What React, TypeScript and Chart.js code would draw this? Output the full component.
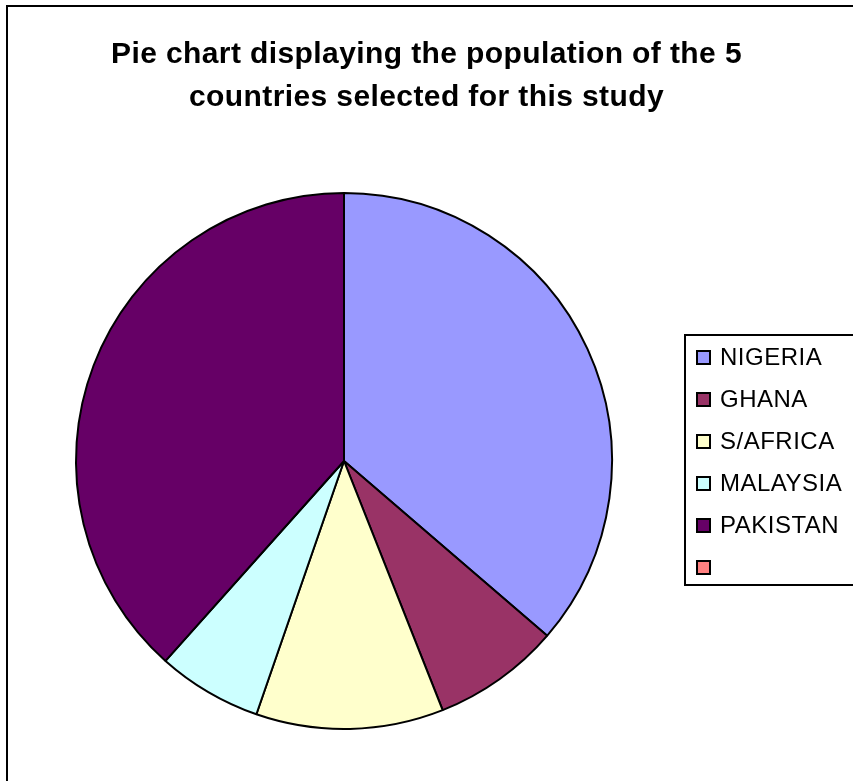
import React, { useEffect, useRef } from "react";
import { Chart, registerables } from "chart.js";

Chart.register(...registerables);

const titleLines = ["Pie chart displaying the population of the 5", "countries selected for this study"];
const categories = ["NIGERIA", "GHANA", "S/AFRICA", "MALAYSIA", "PAKISTAN", ""];
const shares = [36.3, 7.7, 11.3, 6.3, 38.4, 0];
const colors = ["#9999FF", "#993366", "#FFFFCC", "#CCFFFF", "#660066", "#FF8080"];

export default function App() {
  const ref = useRef<HTMLCanvasElement | null>(null);

  useEffect(() => {
    if (!ref.current) return;
    const chart = new Chart(ref.current, {
      type: "pie",
      data: {
        labels: categories,
        datasets: [
          {
            data: shares,
            backgroundColor: colors,
            borderColor: "#000000",
            borderWidth: 2,
          },
        ],
      },
      options: {
        responsive: false,
        animation: false,
        layout: { padding: { left: 75, top: 192, right: 240, bottom: 51 } },
        plugins: {
          legend: { display: false },
          title: { display: false },
          tooltip: { enabled: false },
        },
      },
    });
    return () => chart.destroy();
  }, []);

  const font = '"Liberation Sans", Arial, sans-serif';

  return (
    <div
      style={{
        position: "absolute",
        left: 0,
        top: 0,
        width: 853,
        height: 781,
        overflow: "hidden",
        background: "#fff",
        fontFamily: font,
      }}
    >
      <div
        style={{
          position: "absolute",
          left: 6,
          top: 5,
          width: 1000,
          height: 1000,
          border: "2px solid #000",
          boxSizing: "border-box",
        }}
      />
      <canvas ref={ref} width={853} height={781} style={{ position: "absolute", left: 0, top: 0 }} />
      <div
        style={{
          position: "absolute",
          left: 0,
          top: 31,
          width: 853,
          textAlign: "center",
          fontWeight: "bold",
          fontSize: 30,
          lineHeight: "43px",
          letterSpacing: "0.4px",
          color: "#000",
        }}
      >
        {titleLines.map((t, i) => (
          <div key={i}>{t}</div>
        ))}
      </div>
      <div
        style={{
          position: "absolute",
          left: 684,
          top: 334,
          width: 300,
          height: 252,
          border: "2px solid #000",
          boxSizing: "border-box",
          background: "#fff",
        }}
      >
        {categories.map((c, i) => (
          <div
            key={i}
            style={{
              position: "absolute",
              left: 0,
              top: 22 + i * 42 - 22,
              height: 42,
              display: "flex",
              alignItems: "center",
            }}
          >
            <div
              style={{
                marginLeft: 10,
                width: 15,
                height: 15,
                boxSizing: "border-box",
                border: "2px solid #000",
                background: colors[i],
              }}
            />
            <span
              style={{
                marginLeft: 9,
                fontSize: 24,
                letterSpacing: "0.5px",
                lineHeight: "42px",
                color: "#000",
                whiteSpace: "nowrap",
              }}
            >
              {c}
            </span>
          </div>
        ))}
      </div>
    </div>
  );
}
